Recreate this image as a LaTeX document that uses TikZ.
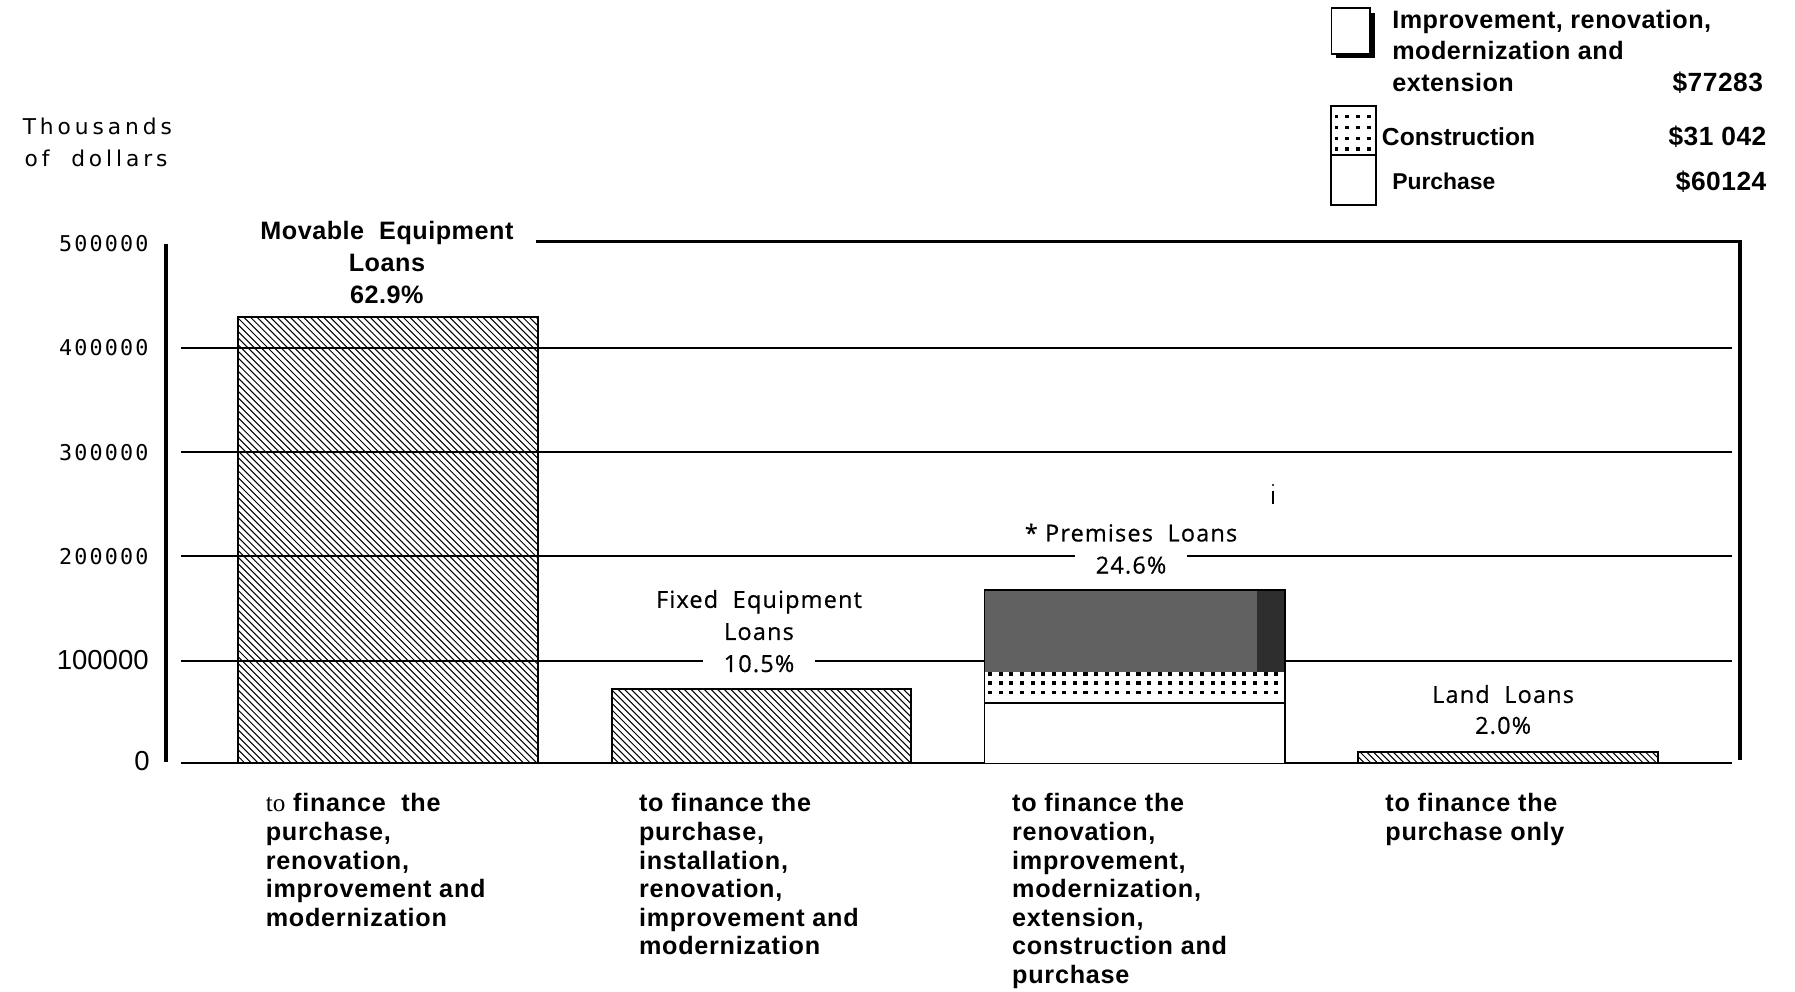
\documentclass[tikz,border=0pt]{standalone}
\usepackage{fontspec}
\setmainfont{Liberation Sans}
\newfontfamily\boldfont{Liberation Sans}
\newfontfamily\boldwide[LetterSpace=3]{Liberation Sans}
\newfontfamily\boldmid[LetterSpace=2]{Liberation Sans}
\newfontfamily\serfont{Liberation Serif}
\newfontfamily\frufont[LetterSpace=5,FakeBold=0.6]{Open Sans}
\newfontfamily\tickfont[LetterSpace=10]{DejaVu Sans Mono}
\newfontfamily\thoufont[LetterSpace=18]{DejaVu Sans}
\newcommand\hatchrect[4]{%
  \begin{scope}
    \clip (#1,#2) rectangle (#3,#4);
    \pgfmathsetmacro\hh{#4-#2}
    \foreach \s in {0,5.8,...,720}{\draw[hatchline] ({#1-\hh+\s},#2) -- ++(\hh,\hh);}
  \end{scope}}
\begin{document}
\begin{tikzpicture}[x=1pt,y=-1pt,
  grid/.style={line width=1.7pt},
  frame/.style={line width=3.4pt},
  barline/.style={line width=1.7pt},
  hatchline/.style={line width=0.9pt},
  btxt/.style={font=\boldwide\bfseries\fontsize{22}{25}\selectfont, align=left, inner sep=0pt},
  blab/.style={font=\boldmid\bfseries\fontsize{22}{28}\selectfont, inner sep=0pt, anchor=base},
  flab/.style={font=\frufont\fontsize{20.5}{28}\selectfont, inner sep=0pt, anchor=base},
  pct/.style={flab, fill=white, inner xsep=18pt, inner ysep=3pt},
  tick/.style={font=\tickfont\fontsize{19}{23}\selectfont, inner sep=0pt, anchor=east},
  bigtick/.style={font=\fontsize{24}{28}\selectfont, inner sep=0pt, anchor=east},
  leg/.style={font=\boldmid\bfseries\fontsize{22}{27}\selectfont, inner sep=0pt, anchor=base west},
  dollar/.style={font=\boldmid\bfseries\fontsize{23}{27}\selectfont, inner sep=0pt, anchor=base east},
  ]
\useasboundingbox (0,0) rectangle (1568,866);

% ---- hatched bars
\hatchrect{208}{277}{470}{666.5}
\draw[barline] (208,666.5) rectangle (470,277);
\hatchrect{534.5}{602}{796}{666.5}
\draw[barline] (534.5,666.5) rectangle (796,602);
\hatchrect{1186}{656.5}{1448}{666.5}
\draw[barline] (1186,666.5) rectangle (1448,656.5);

% ---- grid lines
\foreach \y in {304,395,486,577}{\draw[grid] (158,\y) -- (1513,\y);}
\draw[grid] (158,666.5) -- (1513,666.5);
\draw[line width=2.4pt] (468,211) -- (1520,211);
\draw[frame] (1520,209.8) -- (1520,664);
\draw[frame] (145,213) -- (145,666);

% ---- premises bar (stacked)
\fill[black!62] (860,515.5) rectangle (1122.5,587);
\fill[black!82] (1098,515.5) rectangle (1122.5,587);
\fill[white] (860,587) rectangle (1122.5,666.5);
\foreach \r in {589,596.5,605}{\foreach \c in {0,...,27}{\fill ({863.2+\c*9.25},\r-1.6) rectangle ++(3.6,3.2);}}
\draw[barline] (860,666.5) -- (860,515.5) -- (1122.5,515.5) -- (1122.5,666.5);
\draw[barline] (860,613.8) -- (1122.5,613.8);

% ---- stray mark
\fill (1112,423.6) circle (1);
\draw[line width=1.1pt] (1112,428.6) -- (1112,440);

% ---- axis labels
\node[font=\thoufont\fontsize{19}{23}\selectfont, inner sep=0pt] (th1) at (85,110) {Thousands};
\node[font=\thoufont\fontsize{19}{23}\selectfont, inner sep=0pt] (th2) at (84,138) {of\ \ dollars};
\node[tick] (t5) at (130,213) {500000};
\node[tick] (t4) at (130,304) {400000};
\node[tick] (t3) at (130,395) {300000};
\node[tick] (t2) at (130,486) {200000};
\node[bigtick] (t1) at (130,577) {100000};
\node[bigtick] (t0) at (131,665) {0};

% ---- bar labels
\node[blab] (mov1) at (338,209) {Movable\ \ Equipment};
\node[blab] (mov2) at (338,237) {Loans};
\node[blab] (mov3) at (338,265) {62.9\%};
\node[flab] (fix1) at (663,531) {Fixed\ \ Equipment};
\node[flab] (fix2) at (663,559) {Loans};
\node[pct] (fix3) at (663,587) {10.5\%};
\node[flab] (pre1) at (988,473) {* Premises\ \ Loans};
\node[pct] (pre2) at (988,501) {24.6\%};
\node[flab] (lan1) at (1313,614) {Land\ \ Loans};
\node[flab] (lan2) at (1313,641) {2.0\%};

% ---- descriptions
\node[btxt, anchor=north west] (d1) at (232,693) {{\serfont\mdseries to} finance\ \ the\\purchase,\\renovation,\\improvement and\\modernization};
\node[btxt, anchor=north west] (d2) at (558,693) {to finance the\\purchase,\\installation,\\renovation,\\improvement and\\modernization};
\node[btxt, anchor=north west] (d3) at (884,693) {to finance the\\renovation,\\improvement,\\modernization,\\extension,\\construction and\\purchase};
\node[btxt, anchor=north west] (d4) at (1210,693) {to finance the\\purchase only};

% ---- legend
\fill (1167,11) rectangle (1201,51);
\draw[line width=1.5pt, fill=white] (1163,7) rectangle (1197,47);
\draw[line width=1.6pt] (1163,92.6) rectangle (1202,179);
\draw[line width=1.4pt] (1163,135.4) -- (1202,135.4);
\foreach \r in {101.9,111.5,120.8,130.2}{\foreach \c in {1167.6,1176.9,1186.5,1195.8}{\fill (\c-1.6,\r-1.5) rectangle ++(3.2,3);}}
\node[leg] (l1) at (1216,24.8) {Improvement, renovation,};
\node[leg] (l2) at (1216,52.4) {modernization and};
\node[leg] (l3) at (1216,80) {extension};
\node[dollar] (v1) at (1540.3,80) {\$77283};
\node[leg, font=\boldfont\bfseries\fontsize{21.5}{27}\selectfont] (l4) at (1207,127.3) {Construction};
\node[dollar] (v2) at (1543.2,127.3) {\$31 042};
\node[leg, font=\boldfont\bfseries\fontsize{20}{27}\selectfont] (l5) at (1216,165.4) {Purchase};
\node[dollar] (v3) at (1543.2,166) {\$60124};
\end{tikzpicture}
\end{document}
